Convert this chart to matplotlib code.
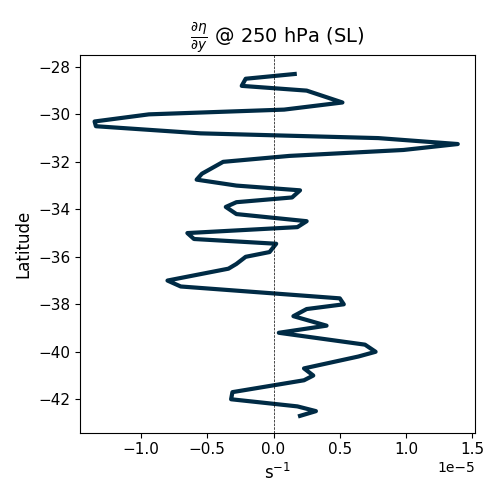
import matplotlib
matplotlib.use("Agg")
import matplotlib.pyplot as plt
import numpy as np

lat = [-28.3,-28.5,-28.8,-29.0,-29.5,-29.8,-30.0,-30.3,-30.5,-30.8,-31.0,-31.25,-31.5,-31.75,-32.0,-32.5,-32.75,-33.0,-33.2,-33.5,-33.7,-33.9,-34.2,-34.5,-34.75,-35.0,-35.25,-35.45,-35.8,-36.0,-36.3,-36.5,-37.0,-37.25,-37.75,-38.0,-38.2,-38.5,-38.9,-39.2,-39.7,-40.0,-40.2,-40.7,-41.0,-41.2,-41.7,-42.0,-42.3,-42.5,-42.7]
grad = [0.16,-0.21,-0.24,0.25,0.52,0.08,-0.94,-1.35,-1.34,-0.55,0.79,1.39,0.98,0.12,-0.38,-0.54,-0.58,-0.28,0.2,0.14,-0.28,-0.36,-0.28,0.25,0.18,-0.65,-0.6,0.02,-0.03,-0.21,-0.28,-0.34,-0.8,-0.7,0.5,0.53,0.25,0.15,0.4,0.04,0.69,0.77,0.64,0.23,0.3,0.23,-0.31,-0.32,0.18,0.32,0.2]

x = np.array(grad) * 1e-5
fig, ax = plt.subplots(figsize=(5, 5), dpi=100)
ax.plot(x, lat, color='#002b45', lw=3)
ax.axvline(0, color='black', ls='--', lw=0.5)
ax.set_xlim(-1.46e-5, 1.52e-5)
ax.set_ylim(-43.4, -27.5)
ax.set_xlabel(r'$\mathrm{s^{-1}}$', fontsize=12)
ax.set_ylabel('Latitude', fontsize=12)
ax.set_title(r'$\frac{\partial \eta}{\partial y}$ @ 250 hPa (SL)', fontsize=14)
ax.tick_params(labelsize=11)
plt.subplots_adjust(left=0.16, right=0.95, bottom=0.135, top=0.89)
fig.savefig('out.png')
